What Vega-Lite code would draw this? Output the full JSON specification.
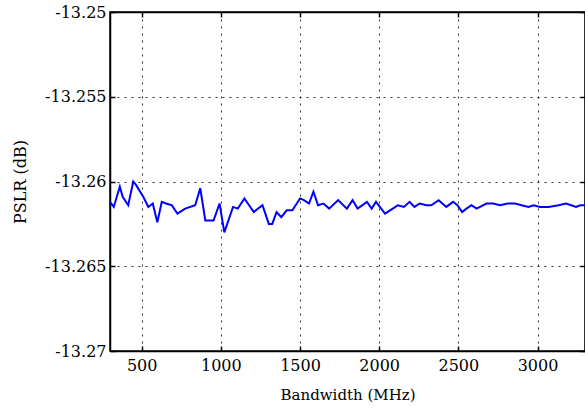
{
  "$schema": "https://vega.github.io/schema/vega-lite/v6.json",
  "width": 475,
  "height": 339,
  "autosize": {"type": "none"},
  "padding": {"left": 110, "top": 12, "right": 0, "bottom": 58},
  "background": "white",
  "config": {
    "view": {"stroke": "black", "strokeWidth": 1.5},
    "font": "DejaVu Serif",
    "axis": {
      "labelFont": "DejaVu Serif",
      "titleFont": "DejaVu Serif",
      "labelFontSize": 16,
      "titleFontSize": 15,
      "titleFontWeight": "normal",
      "labelColor": "black",
      "titleColor": "black",
      "domainColor": "black",
      "tickColor": "black",
      "gridColor": "black",
      "gridDash": [2, 5],
      "gridOpacity": 0.8,
      "tickSize": -5,
      "tickWidth": 1.5
    }
  },
  "data": {"values": [
    {"bw": 300, "pslr": -13.2612}, {"bw": 324, "pslr": -13.2615}, {"bw": 362, "pslr": -13.2603},
    {"bw": 380, "pslr": -13.2609}, {"bw": 415, "pslr": -13.2614}, {"bw": 447, "pslr": -13.2600},
    {"bw": 464, "pslr": -13.2602}, {"bw": 510, "pslr": -13.2609}, {"bw": 542, "pslr": -13.2615},
    {"bw": 570, "pslr": -13.2613}, {"bw": 599, "pslr": -13.2624}, {"bw": 627, "pslr": -13.2612},
    {"bw": 654, "pslr": -13.2613}, {"bw": 690, "pslr": -13.2614}, {"bw": 726, "pslr": -13.2619},
    {"bw": 775, "pslr": -13.2616}, {"bw": 838, "pslr": -13.2614}, {"bw": 870, "pslr": -13.2604},
    {"bw": 902, "pslr": -13.2623}, {"bw": 954, "pslr": -13.2623}, {"bw": 992, "pslr": -13.2613},
    {"bw": 1022, "pslr": -13.2630}, {"bw": 1077, "pslr": -13.2615}, {"bw": 1107, "pslr": -13.2616},
    {"bw": 1149, "pslr": -13.2610}, {"bw": 1208, "pslr": -13.2618}, {"bw": 1263, "pslr": -13.2614},
    {"bw": 1303, "pslr": -13.2625}, {"bw": 1325, "pslr": -13.2625}, {"bw": 1352, "pslr": -13.2618},
    {"bw": 1382, "pslr": -13.2621}, {"bw": 1416, "pslr": -13.2617}, {"bw": 1452, "pslr": -13.2617},
    {"bw": 1500, "pslr": -13.2610}, {"bw": 1525, "pslr": -13.2611}, {"bw": 1557, "pslr": -13.2613},
    {"bw": 1585, "pslr": -13.2606}, {"bw": 1614, "pslr": -13.2614}, {"bw": 1648, "pslr": -13.2613},
    {"bw": 1684, "pslr": -13.2616}, {"bw": 1741, "pslr": -13.2611}, {"bw": 1796, "pslr": -13.2616},
    {"bw": 1832, "pslr": -13.2611}, {"bw": 1864, "pslr": -13.2616}, {"bw": 1923, "pslr": -13.2612},
    {"bw": 1953, "pslr": -13.2616}, {"bw": 1980, "pslr": -13.2612}, {"bw": 2037, "pslr": -13.2619},
    {"bw": 2086, "pslr": -13.2616}, {"bw": 2118, "pslr": -13.2614}, {"bw": 2156, "pslr": -13.2615},
    {"bw": 2192, "pslr": -13.2612}, {"bw": 2223, "pslr": -13.2615}, {"bw": 2255, "pslr": -13.2613},
    {"bw": 2298, "pslr": -13.2614}, {"bw": 2329, "pslr": -13.2614}, {"bw": 2376, "pslr": -13.2611},
    {"bw": 2424, "pslr": -13.2615}, {"bw": 2467, "pslr": -13.2612}, {"bw": 2494, "pslr": -13.2614},
    {"bw": 2524, "pslr": -13.2618}, {"bw": 2551, "pslr": -13.2616}, {"bw": 2583, "pslr": -13.2614},
    {"bw": 2615, "pslr": -13.2616}, {"bw": 2678, "pslr": -13.2613}, {"bw": 2721, "pslr": -13.2613},
    {"bw": 2763, "pslr": -13.2614}, {"bw": 2812, "pslr": -13.2613}, {"bw": 2858, "pslr": -13.2613},
    {"bw": 2900, "pslr": -13.2614}, {"bw": 2943, "pslr": -13.2615}, {"bw": 2975, "pslr": -13.2614},
    {"bw": 3016, "pslr": -13.2615}, {"bw": 3070, "pslr": -13.2615}, {"bw": 3133, "pslr": -13.2614},
    {"bw": 3180, "pslr": -13.2613}, {"bw": 3213, "pslr": -13.2614}, {"bw": 3243, "pslr": -13.2615},
    {"bw": 3270, "pslr": -13.2614}, {"bw": 3300, "pslr": -13.2614}
  ]},
  "layer": [
    {
      "mark": {"type": "line", "color": "#0000ff", "strokeWidth": 2},
      "encoding": {
        "x": {"field": "bw", "type": "quantitative",
              "scale": {"domain": [300, 3300], "nice": false, "zero": false},
              "axis": {"title": "Bandwidth (MHz)", "values": [500, 1000, 1500, 2000, 2500, 3000],
                       "format": "d", "labelPadding": 11, "titlePadding": 14, "domainWidth": 1.5}},
        "y": {"field": "pslr", "type": "quantitative",
              "scale": {"domain": [-13.27, -13.25], "nice": false, "zero": false},
              "axis": {"title": "PSLR (dB)", "titleFontSize": 16, "values": [-13.27, -13.265, -13.26, -13.255, -13.25],
                       "labelExpr": "'-' + format(abs(datum.value), '.3~f')",
                       "labelPadding": 9, "titlePadding": 16, "domainWidth": 1.5}}
      }
    },
    {
      "mark": {"type": "line", "opacity": 0},
      "encoding": {
        "x": {"field": "bw", "type": "quantitative",
              "axis": {"orient": "top", "title": null, "labels": false, "grid": false,
                       "values": [500, 1000, 1500, 2000, 2500, 3000], "domainWidth": 1.5}},
        "y": {"field": "pslr", "type": "quantitative",
              "axis": {"orient": "right", "title": null, "labels": false, "grid": false,
                       "values": [-13.27, -13.265, -13.26, -13.255, -13.25], "domainWidth": 1.5}}
      }
    }
  ],
  "resolve": {"axis": {"x": "independent", "y": "independent"}}
}
